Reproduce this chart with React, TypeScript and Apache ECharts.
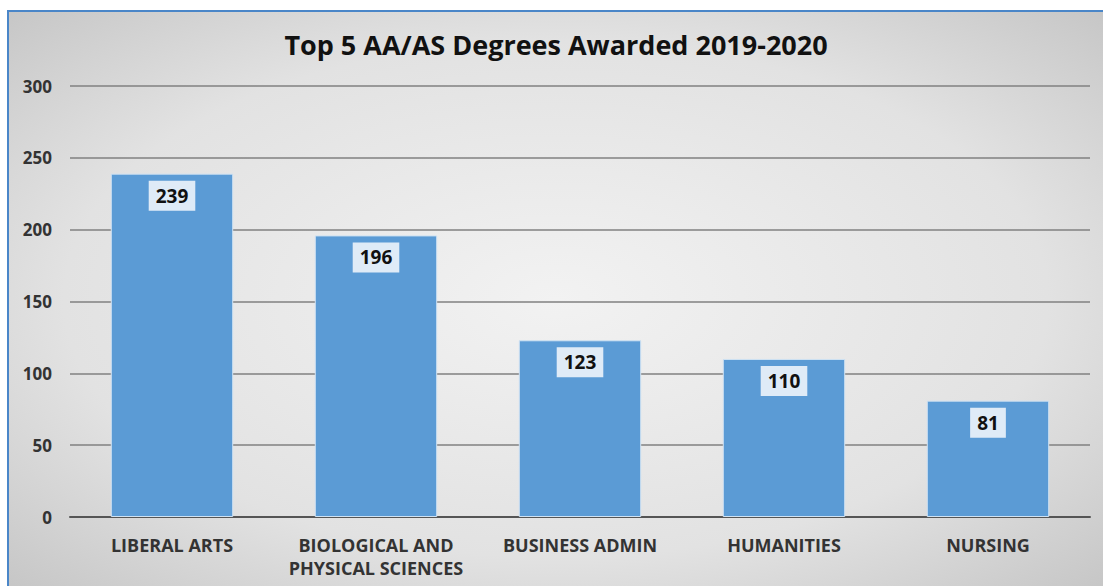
import React, { useEffect, useRef } from "react";
import * as echarts from "echarts";

const categories = [
  "LIBERAL ARTS",
  "BIOLOGICAL AND\nPHYSICAL SCIENCES",
  "BUSINESS ADMIN",
  "HUMANITIES",
  "NURSING",
];
const degrees = [239, 196, 123, 110, 81];
const yTicks = { min: 0, max: 300, interval: 50 };
const titleText = "Top 5 AA/AS Degrees Awarded 2019-2020";

export default function App() {
  const ref = useRef<HTMLDivElement>(null);
  useEffect(() => {
    document.body.style.overflow = "hidden";
    const chart = echarts.init(ref.current!, null, { renderer: "svg" });
    const font = "'Open Sans', 'Noto Sans', sans-serif";
    chart.setOption({
      animation: false,
      backgroundColor: {
        type: "radial",
        x: 0.5,
        y: 0.5,
        r: 0.75,
        colorStops: [
          { offset: 0, color: "#f2f2f2" },
          { offset: 0.6, color: "#e2e2e2" },
          { offset: 1, color: "#c2c2c2" },
        ],
      },
      textStyle: { fontFamily: font },
      title: {
        text: titleText,
        left: "center",
        top: 19,
        padding: [0, 0, 0, 10],
        textStyle: { fontSize: 27, fontWeight: "bold", color: "#111", fontFamily: font },
      },
      grid: { left: 61, right: 13, top: 74, bottom: 69 },
      xAxis: {
        type: "category",
        data: categories,
        axisLine: { lineStyle: { color: "#555", width: 2 } },
        axisTick: { show: false },
        axisLabel: {
          margin: 16,
          fontSize: 18,
          fontWeight: "bold",
          color: "#333",
          lineHeight: 23,
          interval: 0,
          fontFamily: font,
        },
      },
      yAxis: {
        type: "value",
        min: yTicks.min,
        max: yTicks.max,
        interval: yTicks.interval,
        axisLine: { show: false },
        axisTick: { show: false },
        splitLine: { lineStyle: { color: "#808080", width: 1.5 } },
        axisLabel: {
          margin: 18,
          fontSize: 17,
          fontWeight: "bold",
          color: "#333",
          fontFamily: font,
        },
      },
      series: [
        {
          type: "bar",
          data: degrees,
          barWidth: "60%",
          itemStyle: { color: "#5b9bd5", borderColor: "#cfe2f3", borderWidth: 1 },
          label: {
            show: true,
            position: "insideTop",
            distance: 7,
            backgroundColor: "#dfebf7",
            padding: [5, 7],
            fontSize: 19,
            lineHeight: 20,
            fontWeight: "bold",
            color: "#111",
            fontFamily: font,
          },
        },
      ],
    });
    return () => chart.dispose();
  }, []);
  return (
    <div
      style={{
        position: "absolute",
        left: 7,
        top: 10,
        width: 1096,
        height: 576,
        boxSizing: "border-box",
        borderTop: "2px solid #4a86c8",
        borderLeft: "2px solid #4a86c8",
      }}
    >
      <div ref={ref} style={{ width: 1094, height: 574 }} />
    </div>
  );
}
